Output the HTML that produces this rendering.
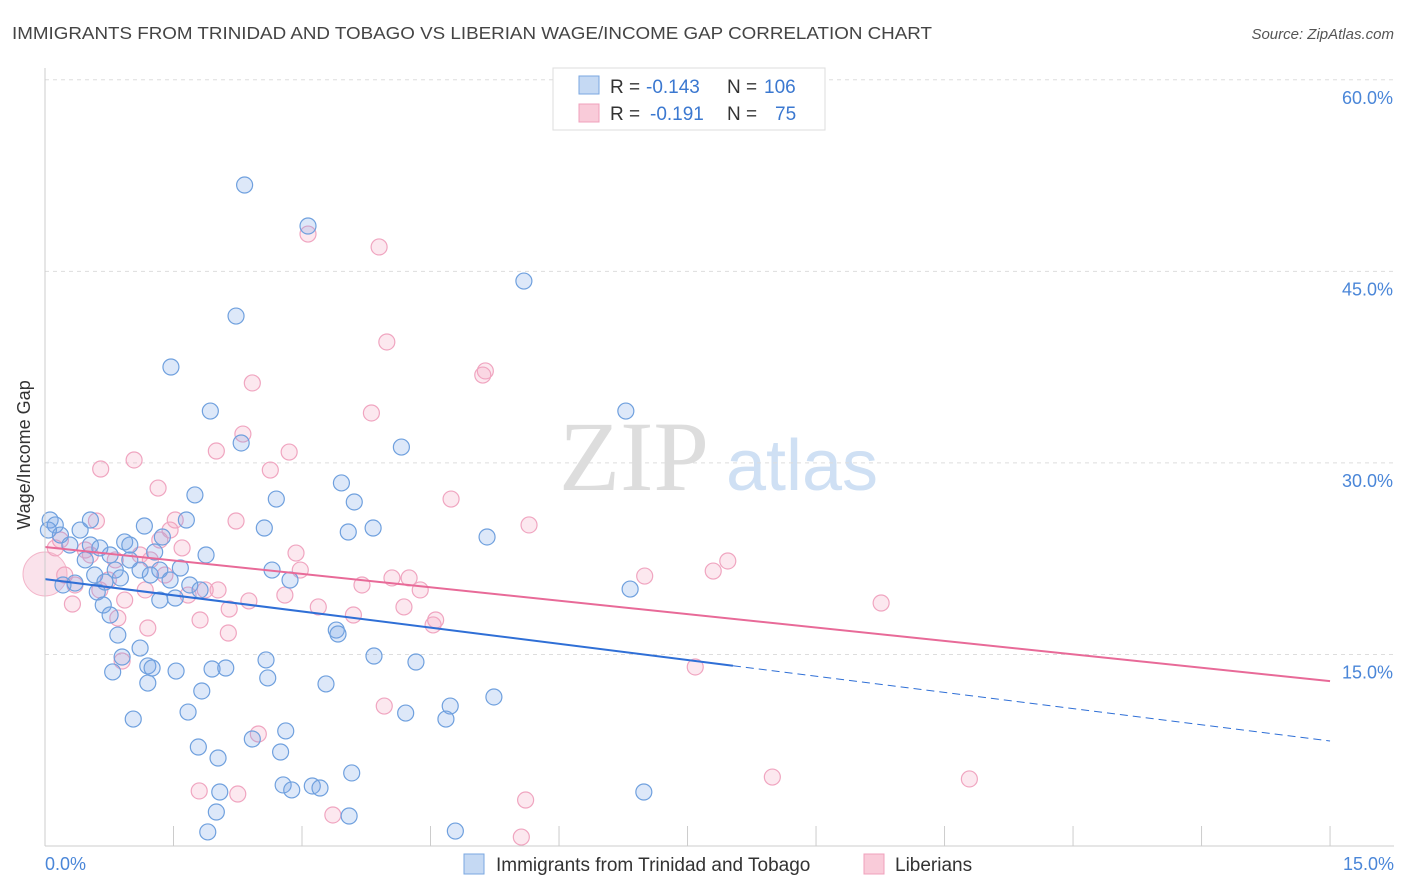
<!DOCTYPE html>
<html><head><meta charset="utf-8"><style>
body{margin:0;background:#fff;font-family:"Liberation Sans",sans-serif}
#wrap{position:relative;width:1406px;height:892px;overflow:hidden}
svg text{font-family:"Liberation Sans",sans-serif}
</style></head><body>
<div id="wrap">
<svg id="chart" width="1406" height="892">
<text x="12" y="39" font-size="17.5" fill="#444" textLength="920" lengthAdjust="spacingAndGlyphs">IMMIGRANTS FROM TRINIDAD AND TOBAGO VS LIBERIAN WAGE/INCOME GAP CORRELATION CHART</text>
<text x="1394" y="39" font-size="15" fill="#555" font-style="italic" text-anchor="end">Source: ZipAtlas.com</text>
<text x="634" y="490" font-size="100" fill="#ddd" text-anchor="middle" style="font-family:'Liberation Serif',serif">ZIP</text>
<text x="802" y="490" font-size="72" fill="#cfe0f4" text-anchor="middle">atlas</text>
<g id="grid"></g><g id="pts"></g><g id="lines"></g>
<line x1="45" y1="68" x2="45" y2="846" stroke="#ccc"/>
<line x1="45" y1="846" x2="1394" y2="846" stroke="#ccc"/>
<text x="30" y="455" font-size="18" fill="#333" text-anchor="middle" transform="rotate(-90 30 455)">Wage/Income Gap</text>
<text x="45" y="870" font-size="18" fill="#4a86d8">0.0%</text>
<text x="1394" y="870" font-size="18" fill="#4a86d8" text-anchor="end">15.0%</text>
<g>
<rect x="553" y="68" width="272" height="62" fill="#fff" stroke="#ddd"/>
<rect x="579" y="76" width="20" height="18" fill="#c5d9f3" stroke="#7aa7e0"/>
<rect x="579" y="104" width="20" height="18" fill="#f9cbd9" stroke="#f0a0bc"/>
<text x="610" y="93" font-size="19" fill="#333">R =</text>
<text x="646" y="93" font-size="19" fill="#3b78d0">-0.143</text>
<text x="727" y="93" font-size="19" fill="#333">N =</text>
<text x="764" y="93" font-size="19" fill="#3b78d0">106</text>
<text x="610" y="120" font-size="19" fill="#333">R =</text>
<text x="650" y="120" font-size="19" fill="#3b78d0">-0.191</text>
<text x="727" y="120" font-size="19" fill="#333">N =</text>
<text x="775" y="120" font-size="19" fill="#3b78d0">75</text>
</g>
<g>
<rect x="464" y="854" width="20" height="20" fill="#c5d9f3" stroke="#7aa7e0"/>
<text x="496" y="871" font-size="19" fill="#333">Immigrants from Trinidad and Tobago</text>
<rect x="864" y="854" width="20" height="20" fill="#f9cbd9" stroke="#f0a0bc"/>
<text x="895" y="871" font-size="19" fill="#333">Liberians</text>
</g>
</svg></div>
<script>
const yTicks=[15,30,45,60];
const yTickLabels=["15.0%","30.0%","45.0%","60.0%"];
const xTicks=[1.5,3,4.5,6,7.5,9,10.5,12,13.5,15];
const blueX=[2.33,3.07,5.59,2.23,1.47,1.93,6.78,2.29,4.16,1.75,3.46,2.70,3.61,1.65,1.16,2.56,3.83,3.54,5.16,0.93,1.28,1.88,0.76,1.37,0.41,0.53,0.64,0.06,0.12,0.18,0.29,0.47,0.58,0.70,0.82,0.88,0.99,1.11,1.23,1.34,1.46,1.58,1.69,1.81,1.52,1.34,0.61,0.68,0.76,0.85,1.11,0.90,0.79,1.20,1.25,1.20,1.53,1.95,2.11,2.58,2.60,2.65,2.86,3.40,3.42,3.84,4.33,6.83,3.28,5.24,4.73,4.21,4.68,1.03,1.67,1.83,2.81,2.75,2.42,1.79,2.02,3.58,2.78,3.12,3.21,2.88,2.04,2.00,3.55,1.90,4.79,6.99,0.21,0.35,0.04,0.53,0.99];
const blueY=[51.76,48.55,44.24,41.50,37.51,34.06,34.06,31.56,31.24,27.49,28.43,27.17,26.94,25.53,25.06,24.90,24.90,24.59,24.20,23.81,23.02,22.79,22.79,24.20,24.74,23.57,23.34,25.53,25.14,24.35,23.57,22.40,21.22,20.67,21.61,20.99,22.40,21.61,21.22,21.61,20.83,21.77,20.44,20.05,19.42,19.26,19.89,18.87,18.09,16.52,15.50,14.80,13.63,14.10,13.94,12.76,13.70,13.86,13.94,14.57,13.16,21.61,20.83,16.91,16.60,14.88,14.41,20.12,12.69,11.67,10.96,10.41,9.94,9.94,10.49,12.14,9.01,7.36,8.38,7.75,6.89,5.72,4.78,4.70,4.54,4.39,4.23,2.66,2.35,1.10,1.17,4.23,20.44,20.59,24.74,25.53,23.57];
const pinkX=[3.07,3.90,3.99,5.14,5.11,2.42,3.81,2.31,2.00,2.85,0.65,1.04,1.32,4.74,5.65,2.23,0.60,1.52,1.60,2.93,2.98,4.05,4.25,4.38,4.19,3.70,3.19,3.60,4.56,4.53,2.38,2.15,2.14,1.81,1.20,0.85,2.02,1.87,1.67,1.40,1.23,1.11,1.34,1.46,0.74,0.82,0.32,0.18,0.12,0.35,0.53,0.23,7.97,7.80,7.00,9.76,7.59,0.90,3.96,2.49,8.49,10.79,1.80,2.25,5.61,3.36,5.56,0.47,0.64,2.63,2.80,0.93,1.17];
const pinkY=[47.92,46.91,39.47,37.20,36.88,36.26,33.91,32.26,30.93,30.85,29.52,30.23,28.03,27.17,25.14,25.45,25.45,25.53,23.34,22.94,21.61,20.99,20.99,20.05,18.72,20.44,18.72,18.09,17.70,17.31,19.19,18.56,16.68,17.70,17.07,17.85,20.05,20.05,19.65,21.22,22.40,22.79,23.96,24.74,20.83,22.40,18.95,23.96,23.34,20.44,22.79,21.22,22.32,21.53,21.14,19.03,14.02,14.49,10.96,8.77,5.40,5.25,4.31,4.07,3.60,2.43,0.70,23.18,20.05,29.44,19.65,19.26,20.05];
const blueTrend=[20.9,-0.845], pinkTrend=[23.41,-0.7];
const X=v=>45+v*85.67, Y=v=>846-v*12.77;
const NS="http://www.w3.org/2000/svg";
function mk(t,a,p){const e=document.createElementNS(NS,t);for(const k in a)e.setAttribute(k,a[k]);p.appendChild(e);return e;}
const grid=document.getElementById('grid');
yTicks.forEach((t,i)=>{
 const l=mk('line',{x1:45,x2:1394,y1:Y(t),y2:Y(t),stroke:'#ddd','stroke-dasharray':'4 4'},grid);
 
 
 const tx=mk('text',{x:1393,y:Y(t)+24,'font-size':18,fill:'#4a86d8','text-anchor':'end'},grid);
 tx.textContent=yTickLabels[i];
 
 
});
xTicks.forEach(t=>{
 const l=mk('line',{x1:X(t),x2:X(t),y1:826,y2:846,stroke:'#ccc'},grid);
 
 
});
const pts=document.getElementById('pts');
const big=mk('circle',{cx:X(0),cy:Y(21.3),r:22,fill:'rgba(240,160,190,0.3)',stroke:'#f3b6ca'},pts);


pinkX.forEach((x,i)=>{
 const c=mk('circle',{cx:X(x),cy:Y(pinkY[i]),r:8,fill:'rgba(242,165,193,0.25)',stroke:'#f0a5c0','stroke-width':1.2},pts);
 
 
});
blueX.forEach((x,i)=>{
 const c=mk('circle',{cx:X(x),cy:Y(blueY[i]),r:8,fill:'rgba(120,165,230,0.25)',stroke:'#6fa0de','stroke-width':1.2},pts);
 
 
});
const lines=document.getElementById('lines');
const f=(tr,x)=>tr[0]+tr[1]*x;
let l1=mk('line',{x1:X(0),y1:Y(f(blueTrend,0)),x2:X(8.03),y2:Y(f(blueTrend,8.03)),stroke:'#2f6fd6','stroke-width':2},lines);


let l2=mk('line',{x1:X(8.03),y1:Y(f(blueTrend,8.03)),x2:X(15),y2:Y(f(blueTrend,15)),stroke:'#2f6fd6','stroke-width':1,'stroke-dasharray':'8 5'},lines);


let l3=mk('line',{x1:X(0),y1:Y(f(pinkTrend,0)),x2:X(15),y2:Y(f(pinkTrend,15)),stroke:'#e86a98','stroke-width':2},lines);


</script>
</body></html>
